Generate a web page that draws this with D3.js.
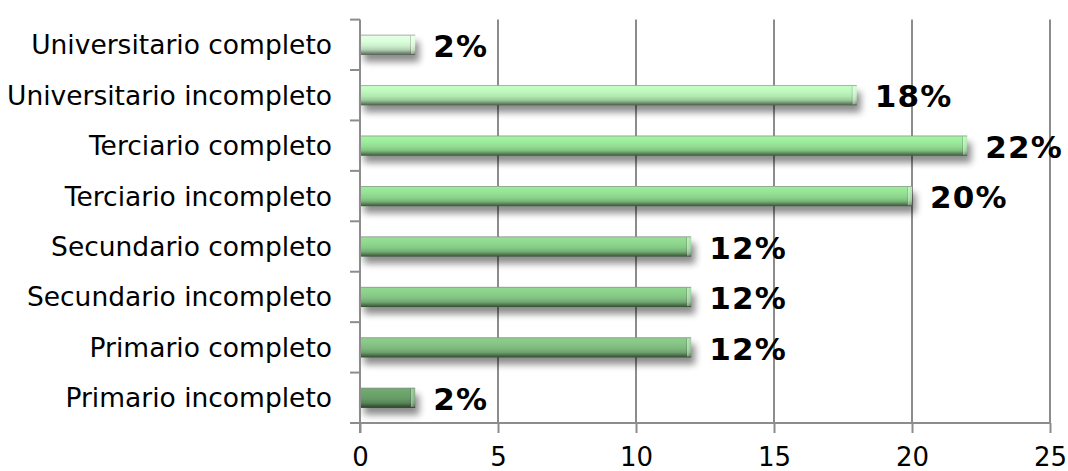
<!DOCTYPE html>
<html>
<head>
<meta charset="utf-8">
<script src="https://cdn.jsdelivr.net/npm/d3@7/dist/d3.min.js"></script>
<style>
  html, body { margin: 0; padding: 0; background: #ffffff; }
  svg { display: block; }
</style>
</head>
<body>
<svg id="chart" width="1068" height="471"></svg>
<script>
// ---- data ----
const categories = [
  "Universitario completo",
  "Universitario incompleto",
  "Terciario completo",
  "Terciario incompleto",
  "Secundario completo",
  "Secundario incompleto",
  "Primario completo",
  "Primario incompleto"
];
const values = [2, 18, 22, 20, 12, 12, 12, 2];
const valueLabels = ["2%", "18%", "22%", "20%", "12%", "12%", "12%", "2%"];
const xTicks = [0, 5, 10, 15, 20, 25];

// ---- style ----
const palette = ["#cdf0cd", "#b2e8b2", "#92dc92", "#8cd48c", "#86ca86", "#82c282", "#7eb87e", "#659a65"];
const gridColor = "#8c8c8c";

const svg = d3.select("#chart");
const margin = { top: 19.6, left: 360 };
const innerW = 1050 - margin.left;
const innerH = 423 - margin.top;

const x = d3.scaleLinear().domain([0, 25]).range([margin.left, margin.left + innerW]);
const y = d3.scaleBand().domain(categories).range([margin.top, margin.top + innerH]).paddingInner(0.6).paddingOuter(0.3);
const yb = d3.scaleBand().domain(categories).range([margin.top, margin.top + innerH]);

const defs = svg.append("defs");
const f = defs.append("filter").attr("id", "shadow").attr("x", "-10%").attr("y", "-50%").attr("width", "130%").attr("height", "250%");
f.append("feGaussianBlur").attr("in", "SourceAlpha").attr("stdDeviation", 3.5).attr("result", "b");
f.append("feOffset").attr("in", "b").attr("dx", 4).attr("dy", 7).attr("result", "o");
f.append("feComponentTransfer").attr("in", "o").append("feFuncA").attr("type", "linear").attr("slope", 0.45);

categories.forEach((c, i) => {
  const base = d3.color(palette[i]);
  const g = defs.append("linearGradient").attr("id", "g" + i).attr("x1", 0).attr("y1", 0).attr("x2", 0).attr("y2", 1);
  const stops = [
    [0, d3.color(gridColor)],
    [0.07, base.brighter(0.3)],
    [0.3, base.brighter(0.2)],
    [0.55, base],
    [0.75, base.darker(0.4)],
    [0.88, base.darker(1.3)],
    [1, base.darker(2.6)]
  ];
  stops.forEach(s => g.append("stop").attr("offset", s[0]).attr("stop-color", s[1].formatHex()));
});
const cap = defs.append("linearGradient").attr("id", "cap").attr("x1", 0).attr("y1", 0).attr("x2", 1).attr("y2", 0);
cap.append("stop").attr("offset", 0).attr("stop-color", "#000").attr("stop-opacity", 0.25);
cap.append("stop").attr("offset", 0.2).attr("stop-color", "#fff").attr("stop-opacity", 0.45);
cap.append("stop").attr("offset", 1).attr("stop-color", "#fff").attr("stop-opacity", 0.15);

// gridlines
svg.append("g").selectAll("line").data(xTicks.slice(1)).join("line")
  .attr("x1", d => x(d)).attr("x2", d => x(d))
  .attr("y1", margin.top).attr("y2", margin.top + innerH)
  .attr("stroke", gridColor).attr("stroke-width", 2);

// shadows
svg.append("g").selectAll("rect").data(values).join("rect")
  .attr("x", x(0)).attr("y", (d, i) => y(categories[i]))
  .attr("width", d => x(d) - x(0)).attr("height", y.bandwidth())
  .attr("fill", "#000").attr("filter", "url(#shadow)");

// bars
svg.append("g").selectAll("rect").data(values).join("rect")
  .attr("x", x(0)).attr("y", (d, i) => y(categories[i]))
  .attr("width", d => x(d) - x(0)).attr("height", y.bandwidth())
  .attr("fill", (d, i) => `url(#g${i})`);

// bevel caps
svg.append("g").selectAll("rect").data(values).join("rect")
  .attr("x", d => x(d) - 5).attr("y", (d, i) => y(categories[i]) + 1)
  .attr("width", 5).attr("height", y.bandwidth() - 2)
  .attr("fill", "url(#cap)");

// axes
const xAxis = d3.axisBottom(x).tickValues(xTicks).tickSize(10).tickPadding(15).tickFormat(d3.format("d"));
const gx = svg.append("g").attr("transform", `translate(0,${margin.top + innerH})`).call(xAxis);
gx.select(".domain").attr("stroke", gridColor).attr("stroke-width", 2).attr("d", `M${x(0)},0H${x(25)}`);
gx.selectAll(".tick line").attr("stroke", gridColor).attr("stroke-width", 2);
gx.selectAll("text").attr("font-family", "DejaVu Sans, Verdana, sans-serif").attr("font-size", 26).attr("fill", "#000");

const gy = svg.append("g").attr("transform", `translate(${x(0)},0)`);
gy.append("line").attr("x1", 0).attr("x2", 0).attr("y1", margin.top).attr("y2", margin.top + innerH + 10)
  .attr("stroke", gridColor).attr("stroke-width", 2);
const bounds = categories.map(c => yb(c)).concat([margin.top + innerH]);
gy.selectAll("line.t").data(bounds).join("line").attr("class", "t")
  .attr("x1", -10).attr("x2", 0).attr("y1", d => d).attr("y2", d => d)
  .attr("stroke", gridColor).attr("stroke-width", 2);
gy.selectAll("text").data(categories).join("text")
  .attr("x", -28).attr("y", d => yb(d) + yb.bandwidth() / 2)
  .attr("dy", "0.36em").attr("text-anchor", "end")
  .attr("font-family", "DejaVu Sans, Verdana, sans-serif").attr("font-size", 26.5).attr("fill", "#000")
  .text(d => d);

// value labels
svg.append("g").selectAll("text").data(values).join("text")
  .attr("x", d => x(d) + 18).attr("y", (d, i) => y(categories[i]) + y.bandwidth() / 2 + 1)
  .attr("dy", "0.36em")
  .attr("font-family", "DejaVu Sans, Verdana, sans-serif").attr("font-weight", "bold")
  .attr("font-size", 31).attr("letter-spacing", 1.2).attr("fill", "#000")
  .text((d, i) => valueLabels[i]);
</script>
</body>
</html>
